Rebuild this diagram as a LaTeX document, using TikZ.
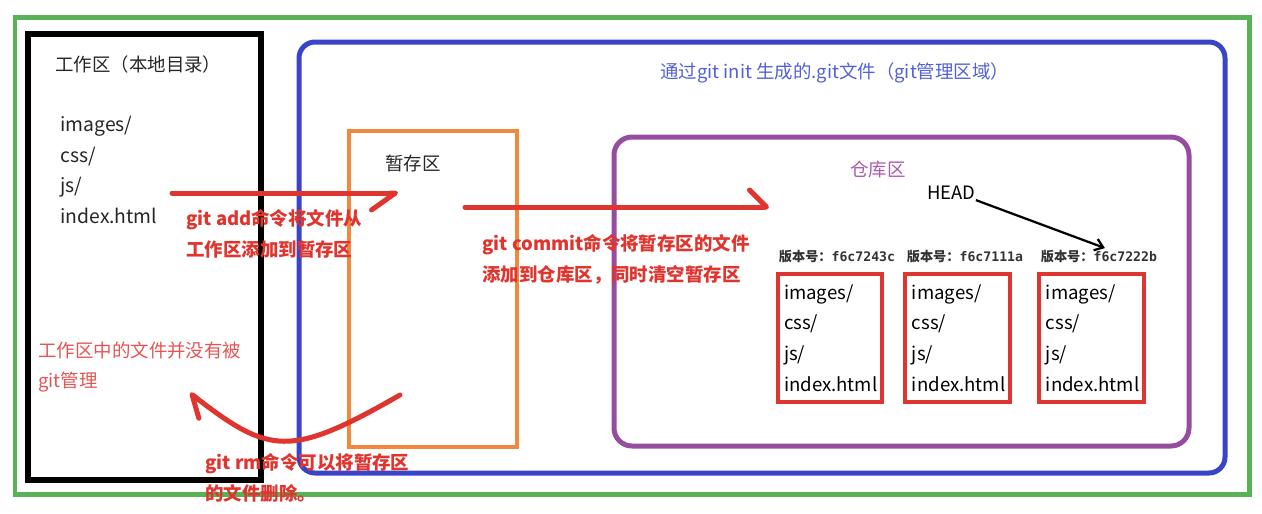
\documentclass[tikz,border=0pt]{standalone}
\usepackage{fontspec}
\usepackage{xcolor}
\usepackage{tikz}
\usetikzlibrary{arrows.meta,positioning}
\newfontfamily\cjk{Noto Sans CJK SC}
\newfontfamily\hashfont{DejaVu Sans Mono}
\definecolor{gitgreen}{RGB}{88,178,88}
\definecolor{gitblue}{RGB}{58,68,200}
\definecolor{gitorange}{RGB}{240,136,62}
\definecolor{gitpurple}{RGB}{150,76,160}
\definecolor{gitred}{RGB}{224,52,46}
\definecolor{notered}{RGB}{228,84,84}
\definecolor{titleblue}{RGB}{84,96,214}
\definecolor{repopurple}{RGB}{170,92,176}

\begin{document}
\begin{tikzpicture}[x=0.02cm, y=-0.02cm,
  areabox/.style={line width=0.1cm},
  areatitle/.style={font=\cjk\fontsize{10.5}{13}\selectfont, anchor=west, inner sep=0pt},
  files/.style={font=\cjk\fontsize{11}{17.4}\selectfont, align=left, anchor=west, inner sep=0pt},
  filebox/.style={draw=gitred, line width=0.08cm, minimum width=2.1cm, minimum height=2.56cm, text width=1.84cm, inner xsep=0.13cm, align=left, font=\cjk\fontsize{10.6}{17.4}\selectfont},
  version/.style={font=\cjk\bfseries\fontsize{7.5}{9}\selectfont, inner sep=1pt, text=black!80},
  note/.style={font=\cjk\bfseries\fontsize{10.5}{17.5}\selectfont, text=gitred, align=left, anchor=west, inner sep=0pt},
  redarrow/.style={draw=gitred, line width=0.1cm, line cap=round},
  headarrow/.style={-{Straight Barb[length=1.6mm, width=2.4mm]}, line width=0.045cm},
]
\useasboundingbox (0,0) rectangle (1262,514);

\draw[areabox, draw=gitgreen] (15,17) rectangle (1249,494);
\draw[areabox, draw=black, line width=0.12cm] (28,34) rectangle (261,480);
\draw[areabox, draw=gitblue, rounded corners=0.32cm] (299,42) rectangle (1225,473);
\draw[areabox, draw=gitorange, line width=0.08cm] (349,131) rectangle (517,447);
\draw[areabox, draw=gitpurple, rounded corners=0.36cm] (614,137) rectangle (1189,446);

\node[areatitle, text=black!85] (worktitle) at (55,64) {工作区（本地目录）};
\node[files, text=black!85] (workfiles) at (60,170) {images/\\css/\\js/\\index.html};
\node[areatitle, text=titleblue] (gittitle) at (660,73) {通过git init 生成的.git文件（git管理区域）};
\node[areatitle, text=black!85] (stagetitle) at (385,163) {暂存区};
\node[areatitle, text=repopurple] (repotitle) at (850,170) {仓库区};
\node[areatitle, text=black] (head) at (927,193) {HEAD};

\node[filebox] (commit1) at (830,338) {images/\\css/\\js/\\index.html};
\node[filebox, right=0.38cm of commit1] (commit2) {images/\\css/\\js/\\index.html};
\node[filebox, right=0.5cm of commit2] (commit3) {images/\\css/\\js/\\index.html};
\node[version, above=0.14cm of commit1, xshift=0.14cm] (ver1) {版本号：{\hashfont f6c7243c}};
\node[version, above=0.14cm of commit2, xshift=0.14cm] (ver2) {版本号：{\hashfont f6c7111a}};
\node[version, above=0.14cm of commit3, xshift=0.14cm] (ver3) {版本号：{\hashfont f6c7222b}};

\draw[headarrow] (head.south east) -- ([xshift=0.12cm]ver3.north);

\node[note] (addnote) at (186,234) {git add命令将文件从\\工作区添加到暂存区};
\node[note] (commitnote) at (482,259) {git commit命令将暂存区的文件\\添加到仓库区，同时清空暂存区};
\node[note, font=\cjk\fontsize{10.5}{17}\selectfont, text=notered] (worknote) at (38,367) {工作区中的文件并没有被\\git管理};
\node[note] (rmnote) at (205,478) {git rm命令可以将暂存区\\的文件删除。};

\coordinate (addstart) at (172,193);
\coordinate (addend) at (398,193);
\coordinate (commitstart) at (465,207);
\coordinate (commitend) at (769,207);
\coordinate (rmstart) at (400,395);
\coordinate (rmend) at (190,393);

\draw[redarrow, -{Straight Barb[harpoon, swap, round, length=0.48cm, width=0.68cm]}] (addstart) -- (addend);
\draw[redarrow, -{Straight Barb[harpoon, round, length=0.34cm, width=0.68cm]}] (commitstart) -- (commitend);
\draw[redarrow, -{Straight Barb[harpoon, round, length=0.4cm, width=0.58cm]}] (rmstart) .. controls (290,458) and (270,455) .. (rmend);

\end{tikzpicture}
\end{document}
